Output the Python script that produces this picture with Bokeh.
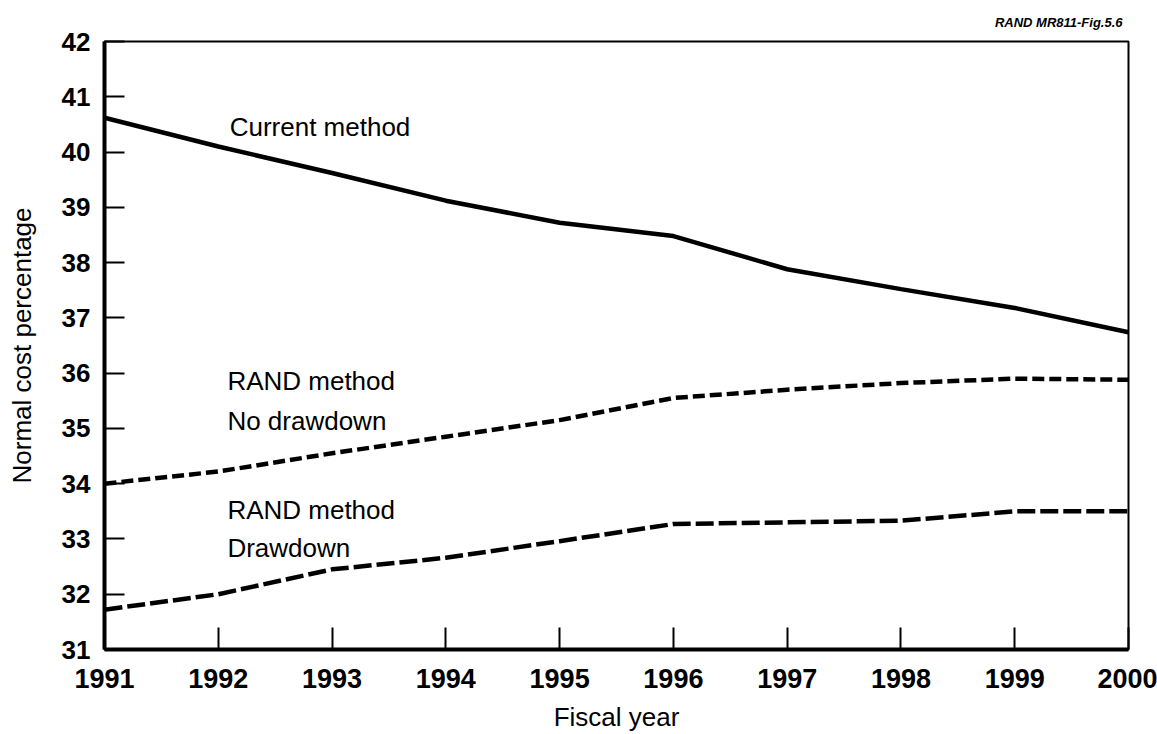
from bokeh.plotting import figure
from bokeh.models import FixedTicker, Title
from bokeh.core.properties import value
from bokeh.embed import file_html
from bokeh.resources import INLINE

years = [1991, 1992, 1993, 1994, 1995, 1996, 1997, 1998, 1999, 2000]
current_method = [40.62, 40.10, 39.62, 39.12, 38.72, 38.48, 37.88, 37.52, 37.18, 36.74]
rand_no_drawdown = [34.00, 34.22, 34.55, 34.85, 35.15, 35.55, 35.70, 35.82, 35.90, 35.88]
rand_drawdown = [31.72, 32.00, 32.45, 32.66, 32.96, 33.27, 33.30, 33.33, 33.50, 33.50]
y_ticks = list(range(31, 43))

FONT = "Liberation Sans"

p = figure(width=1157, height=734, x_range=(1991, 2000), y_range=(31, 42),
           output_backend="svg", toolbar_location=None,
           min_border_left=104, min_border_right=29, min_border_top=41, min_border_bottom=82)

p.xgrid.grid_line_color = None
p.ygrid.grid_line_color = None
p.outline_line_color = "black"
p.outline_line_width = 2
p.outline_line_alpha = 1.0

for ax in (p.xaxis[0], p.yaxis[0]):
    ax.axis_line_width = 4
    ax.axis_line_color = "black"
    ax.major_tick_out = 0
    ax.major_tick_line_width = 2
    ax.major_tick_line_color = "black"
    ax.minor_tick_line_color = None
    ax.major_label_text_font = FONT
    ax.major_label_text_font_style = "bold"
    ax.major_label_text_color = "black"
    ax.axis_label_text_font = FONT
    ax.axis_label_text_font_style = "normal"
    ax.axis_label_text_color = "black"
    ax.axis_label_text_font_size = "26px"

p.xaxis.ticker = FixedTicker(ticks=years)
p.xaxis.major_tick_in = 22
p.xaxis.major_label_text_font_size = "27px"
p.xaxis.major_label_standoff = 19
p.xaxis.axis_label = "Fiscal year"
p.xaxis.axis_label_standoff = 11

p.yaxis.ticker = FixedTicker(ticks=y_ticks)
p.yaxis.major_tick_in = 20
p.yaxis.major_label_text_font_size = "26px"
p.yaxis.major_label_standoff = 14
p.yaxis.axis_label = "Normal cost percentage"
p.yaxis.axis_label_standoff = 22

p.line(years, current_method, line_width=4.5, line_color="black")
p.line(years, rand_no_drawdown, line_width=4.5, line_color="black", line_dash="12 5")
p.line(years, rand_drawdown, line_width=4.5, line_color="black", line_dash="18 5")

labels = ["Current method", "RAND method", "No drawdown", "RAND method", "Drawdown"]
lx = [1992.1, 1992.08, 1992.08, 1992.08, 1992.08]
ly = [40.45, 35.85, 35.13, 33.52, 32.84]
p.text(x=lx, y=ly, text=labels, text_font=value(FONT), text_font_size="26px",
       text_baseline="middle", text_align="left", text_color="black")

note = Title(text="RAND MR811-Fig.5.6", align="right", text_font=FONT,
             text_font_size="13px", text_font_style="bold italic",
             text_color="black", standoff=24, offset=6)
p.add_layout(note, "above")

open("out.html", "w").write(file_html(p, INLINE))
